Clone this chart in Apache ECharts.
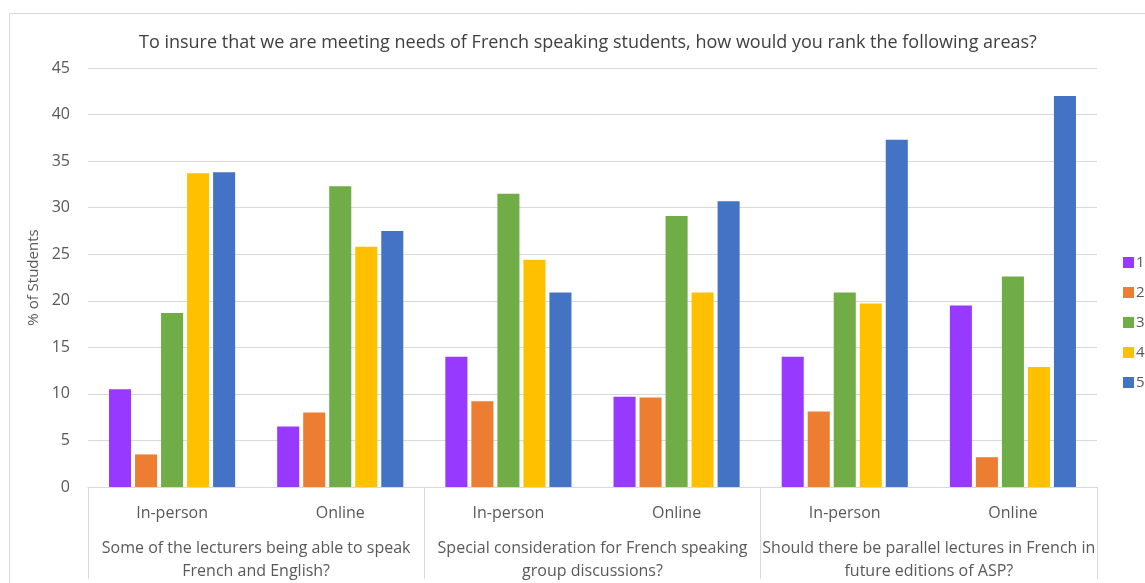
<!DOCTYPE html>
<html>
<head>
<meta charset="utf-8">
<script src="https://cdn.jsdelivr.net/npm/echarts@6/dist/echarts.min.js"></script>
<style>
html,body{margin:0;padding:0;background:#fff;overflow:hidden;}
#chart{width:1145px;height:583px;}
</style>
</head>
<body>
<div id="chart"></div>
<script>
var subCategories = ['In-person', 'Online', 'In-person', 'Online', 'In-person', 'Online'];
var groupLabels = [
  'Some of the lecturers being able to speak\nFrench and English?',
  'Special consideration for French speaking\ngroup discussions?',
  'Should there be parallel lectures in French in\nfuture editions of ASP?'
];
var seriesNames = ['1', '2', '3', '4', '5'];
var rank1 = [10.5, 6.5, 14.0, 9.7, 14.0, 19.5];
var rank2 = [3.5, 8.0, 9.2, 9.6, 8.1, 3.2];
var rank3 = [18.7, 32.3, 31.5, 29.1, 20.9, 22.6];
var rank4 = [33.7, 25.8, 24.4, 20.9, 19.7, 12.9];
var rank5 = [33.8, 27.5, 20.9, 30.7, 37.3, 42.0];
var yTicks = { min: 0, max: 45, interval: 5 };
var titleText = 'To insure that we are meeting needs of French speaking students, how would you rank the following areas?';
var yName = '% of Students';

var colors = ['#9739FF', '#ED7D31', '#70AD47', '#FFC000', '#4472C4'];
var allData = [rank1, rank2, rank3, rank4, rank5];
var fontFam = 'Open Sans';

var chart = echarts.init(document.getElementById('chart'), null, {renderer: 'canvas', width: 1145, height: 583});
chart.setOption({
  animation: false,
  color: colors,
  textStyle: { fontFamily: fontFam },
  graphic: [{
    type: 'rect', left: 7, top: 11,
    shape: { width: 1160, height: 600 },
    style: { fill: 'none', stroke: '#d9d9d9', lineWidth: 1 },
    silent: true
  }],
  title: {
    text: titleText,
    left: 134,
    top: 29,
    textStyle: { fontFamily: fontFam, fontSize: 18, fontWeight: 'normal', color: '#404040' }
  },
  legend: {
    orient: 'vertical',
    left: 1118,
    top: 250,
    itemWidth: 11,
    itemHeight: 11,
    itemGap: 15,
    icon: 'rect',
    data: seriesNames,
    textStyle: { fontFamily: fontFam, fontSize: 15, color: '#595959', padding: [0, 0, 0, -3] }
  },
  grid: { left: 88, right: 48, top: 68, bottom: 90, containLabel: false },
  xAxis: [{
    type: 'category',
    data: subCategories,
    position: 'bottom',
    axisLine: { show: true, lineStyle: { color: '#d9d9d9', width: 1 } },
    axisTick: { show: false },
    axisLabel: { interval: 0, margin: 18, fontSize: 16, color: '#595959', fontFamily: fontFam }
  }, {
    type: 'category',
    data: groupLabels,
    position: 'bottom',
    axisLine: { show: false },
    axisTick: { show: true, length: 92, interval: 0, lineStyle: { color: '#d9d9d9', width: 1 } },
    axisLabel: { interval: 0, margin: 50, fontSize: 16, lineHeight: 23, color: '#595959', fontFamily: fontFam, align: 'center' }
  }],
  yAxis: {
    type: 'value',
    min: yTicks.min, max: yTicks.max, interval: yTicks.interval,
    name: yName,
    nameLocation: 'middle',
    nameGap: 44,
    nameRotate: 90,
    nameTextStyle: { fontFamily: fontFam, fontSize: 15, color: '#595959' },
    axisLine: { show: false },
    axisTick: { show: false },
    axisLabel: { margin: 18, fontSize: 16, color: '#595959', fontFamily: fontFam },
    splitLine: { lineStyle: { color: '#d9d9d9', width: 1 } }
  },
  series: seriesNames.map(function (n, i) {
    return {
      name: n,
      type: 'bar',
      xAxisIndex: 0,
      data: allData[i],
      barGap: '18%',
      barCategoryGap: '25%'
    };
  })
});
</script>
</body>
</html>
